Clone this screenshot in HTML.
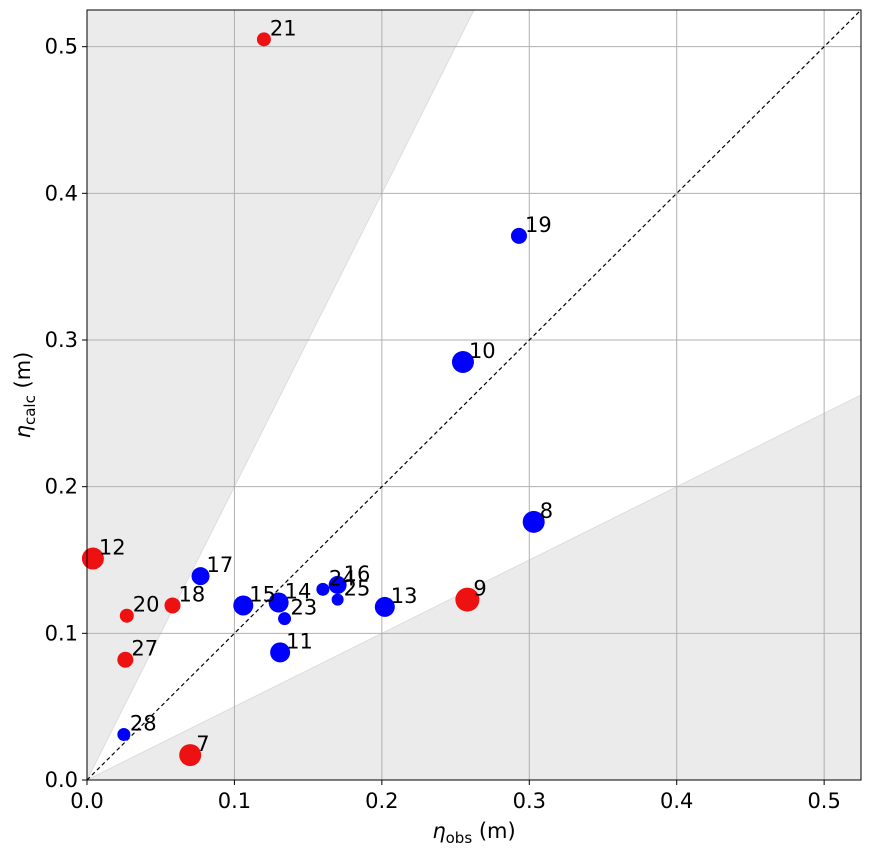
<!DOCTYPE html>
<html><head><meta charset="utf-8"><style>
body{margin:0;background:#fff}
svg text{font-family:"DejaVu Sans","Liberation Sans",sans-serif;fill:#000}
</style></head><body>
<svg id="chart" width="872" height="852" xmlns="http://www.w3.org/2000/svg"></svg>
<script>
const ids=[21,19,10,8,9,12,17,20,18,27,15,14,23,24,16,25,13,11,28,7];
const obs=[0.120,0.293,0.255,0.303,0.258,0.004,0.077,0.027,0.058,0.026,0.106,0.130,0.134,0.160,0.170,0.170,0.202,0.131,0.025,0.070];
const calc=[0.505,0.371,0.285,0.176,0.123,0.151,0.139,0.112,0.119,0.082,0.119,0.121,0.110,0.130,0.133,0.123,0.118,0.087,0.031,0.017];
const radii=[7,8,11,11,12,11,9,7,8,8,10,10,6.5,6.5,9,6,10,10,6.5,11];
const groups=['r','b','b','b','r','r','b','r','r','r','b','b','b','b','b','b','b','b','b','r'];
const ticks=[0,0.1,0.2,0.3,0.4,0.5];
const tickLabels=['0.0','0.1','0.2','0.3','0.4','0.5'];
const L=87,R=861,T=10,B=780,MAX=0.525;
const sx=v=>L+v/MAX*(R-L), sy=v=>B-v/MAX*(B-T);
const svg=document.getElementById('chart');const NS='http://www.w3.org/2000/svg';
function mk(tag,attrs,parent){const e=document.createElementNS(NS,tag);for(const k in attrs)e.setAttribute(k,attrs[k]);(parent||svg).appendChild(e);return e;}
let p=mk('polygon',{points:`${sx(0)},${sy(0)} ${sx(0)},${sy(MAX)} ${sx(MAX/2)},${sy(MAX)}`,fill:'#ebebeb',stroke:'#ddd'});


p=mk('polygon',{points:`${sx(0)},${sy(0)} ${sx(MAX)},${sy(0)} ${sx(MAX)},${sy(MAX/2)}`,fill:'#ebebeb',stroke:'#ddd'});


ticks.forEach((t,i)=>{
 let g=mk('line',{x1:sx(t),x2:sx(t),y1:T,y2:B,stroke:'#b0b0b0','stroke-width':1});
 
 
 g=mk('line',{x1:L,x2:R,y1:sy(t),y2:sy(t),stroke:'#b0b0b0','stroke-width':1});
 
 
 mk('line',{x1:sx(t),x2:sx(t),y1:B,y2:B+5,stroke:'#000'});
 mk('line',{x1:L-5,x2:L,y1:sy(t),y2:sy(t),stroke:'#000'});
 let tx=mk('text',{x:sx(t),y:B+28,'text-anchor':'middle','font-size':21});tx.textContent=tickLabels[i];
 
 
 tx=mk('text',{x:L-9,y:sy(t)+7,'text-anchor':'end','font-size':21});tx.textContent=tickLabels[i];
 
 
});
let d=mk('line',{x1:sx(0),y1:sy(0),x2:sx(MAX),y2:sy(MAX),stroke:'#000','stroke-width':1.2,'stroke-dasharray':'4,3'});


ids.forEach((id,i)=>{
 const c=mk('circle',{cx:sx(obs[i]),cy:sy(calc[i]),r:radii[i],fill:groups[i]==='r'?'#ee1111':'#0000ff'});
 
 
});
ids.forEach((id,i)=>{
 const t=mk('text',{x:sx(obs[i])+6,y:sy(calc[i])-4,'font-size':21});t.textContent=id;
 
 
});
let f=mk('rect',{x:L,y:T,width:R-L,height:B-T,fill:'none',stroke:'#000','stroke-width':1});


let xl=mk('text',{x:(L+R)/2,y:838,'text-anchor':'middle','font-size':21});
xl.innerHTML='<tspan font-style="italic">η</tspan><tspan font-size="15" dy="5">obs</tspan><tspan dy="-5"> (m)</tspan>';


let yl=mk('text',{x:0,y:0,'text-anchor':'middle','font-size':21,transform:`translate(30,${(T+B)/2}) rotate(-90)`});
yl.innerHTML='<tspan font-style="italic">η</tspan><tspan font-size="15" dy="5">calc</tspan><tspan dy="-5"> (m)</tspan>';


</script>
</body></html>
